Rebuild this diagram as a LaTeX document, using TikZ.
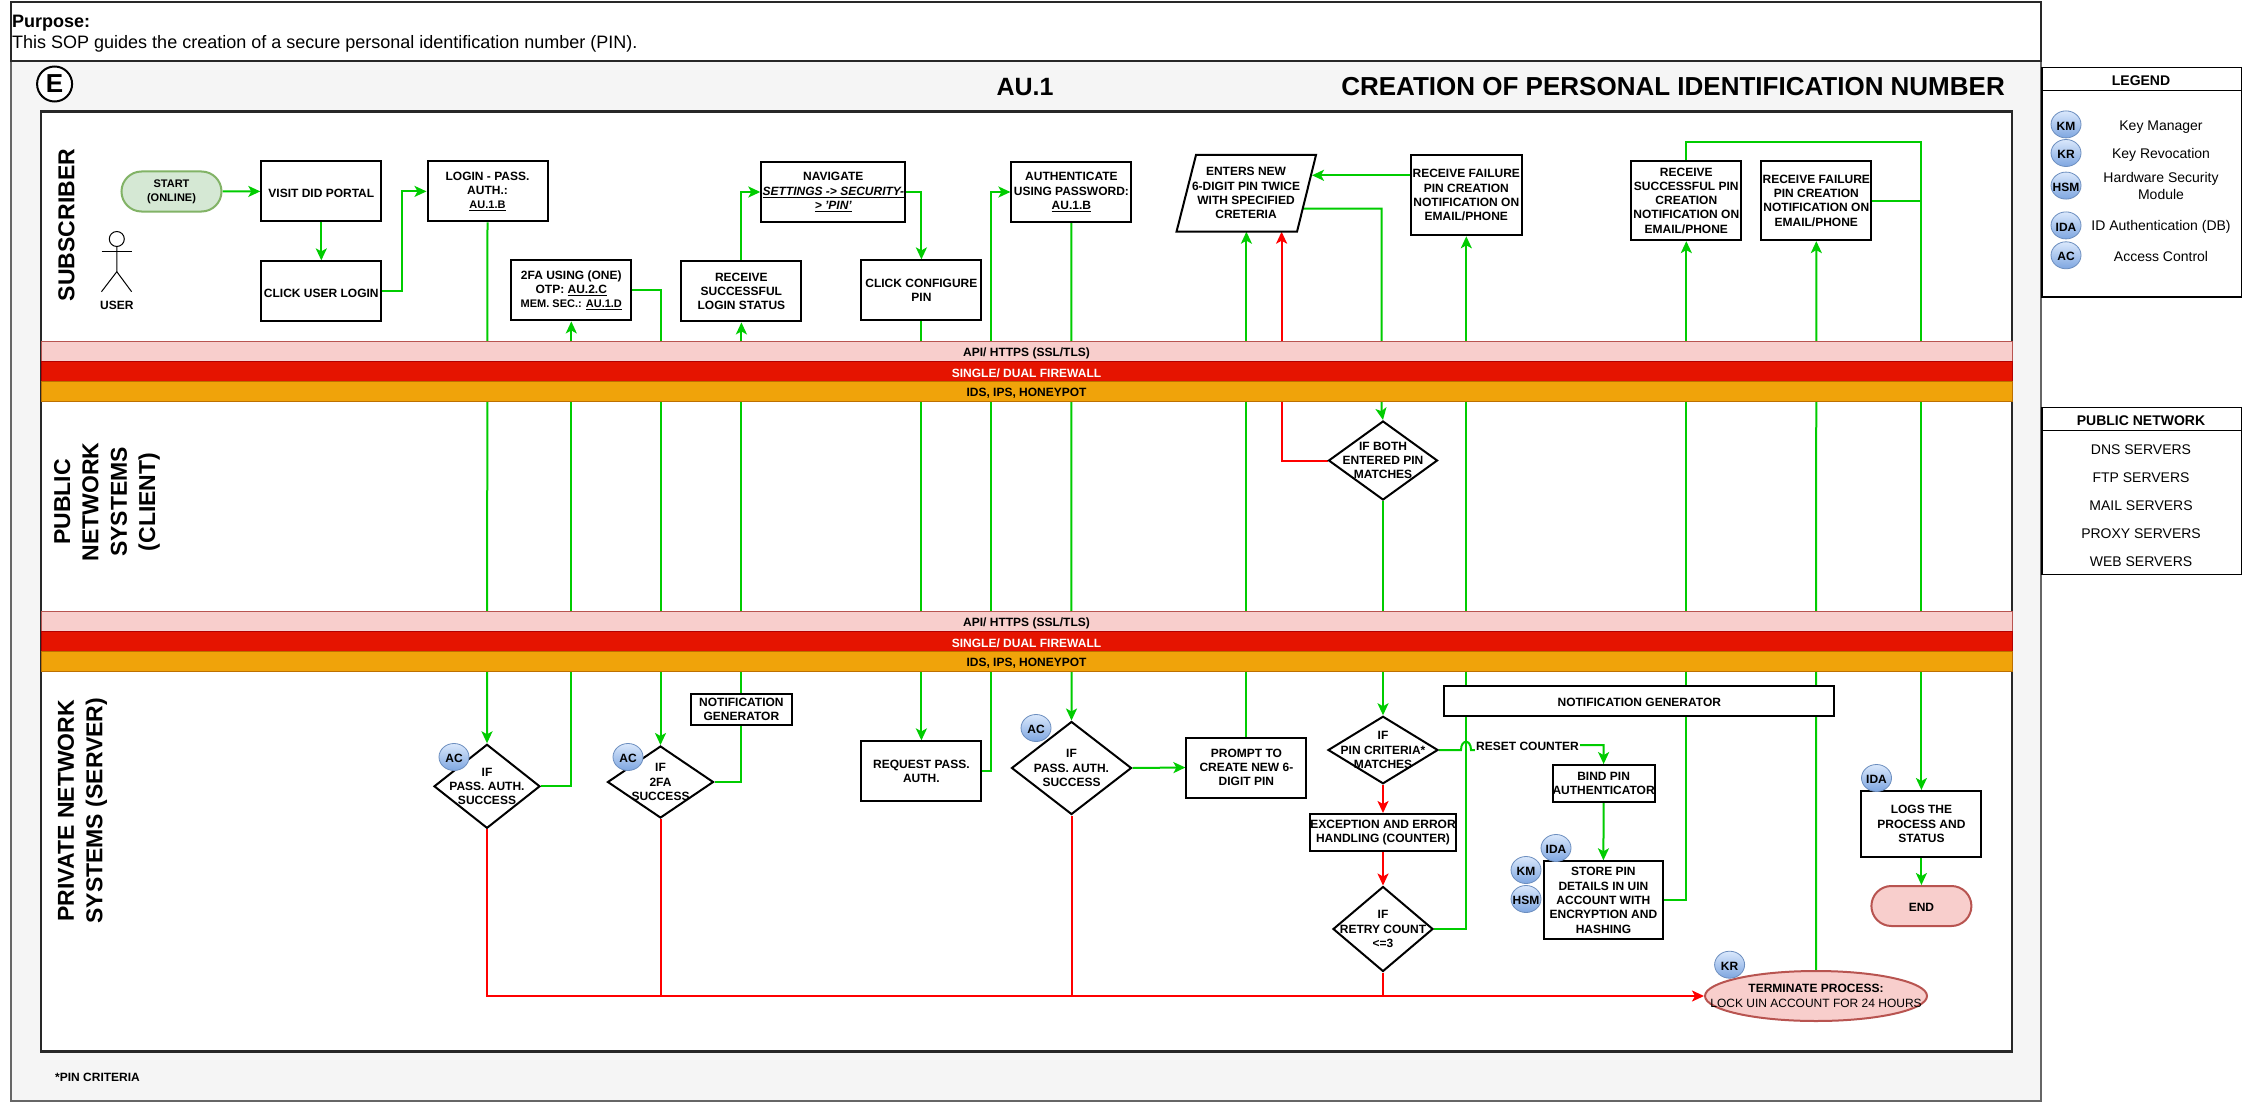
\documentclass[tikz,border=0pt]{standalone}
\usepackage{fontspec}
\setmainfont{Liberation Sans}
\usetikzlibrary{arrows.meta,shapes.geometric}
\pgfdeclarelayer{panel}
\pgfdeclarelayer{conn}
\pgfsetlayers{panel,conn,main}
\definecolor{gok}{HTML}{00CC00}
\definecolor{rno}{HTML}{FF0000}
\definecolor{panelgray}{HTML}{666666}
\definecolor{panelfill}{HTML}{F5F5F5}
\definecolor{frame}{HTML}{282828}
\definecolor{pinkfill}{HTML}{F8CECC}
\definecolor{pinkline}{HTML}{B85450}
\definecolor{redfill}{HTML}{E51400}
\definecolor{redline}{HTML}{B20000}
\definecolor{orgfill}{HTML}{F0A30A}
\definecolor{orgline}{HTML}{BD7000}
\definecolor{grnfill}{HTML}{D5E8D4}
\definecolor{grnline}{HTML}{82B366}
\definecolor{blueline}{HTML}{6C8EBF}
\definecolor{bluetop}{HTML}{DAE8FC}
\definecolor{bluebot}{HTML}{7EA6E0}
\tikzset{
  lowtext/.style={execute at begin node={\leavevmode\rule{0pt}{#1}}},
  b12/.style={font=\fontsize{12}{14.3}\selectfont\bfseries,lowtext=11.5pt},
  r14/.style={font=\fontsize{14}{17}\selectfont,lowtext=13pt},
  box/.style={draw=black,line width=2pt,fill=white,inner sep=0pt,align=center,b12,minimum width=120pt,minimum height=60pt},
  dia/.style={shape=diamond,draw=black,line width=2pt,fill=white,inner xsep=-70pt,inner ysep=-30pt,align=center,b12},
  pill/.style={draw=#1,line width=2pt,rounded corners=20pt,inner sep=0pt,align=center,minimum width=100pt,minimum height=40pt},
  tag/.style={shape=ellipse,draw=blueline,line width=.8pt,top color=bluetop,bottom color=bluebot,inner xsep=-12pt,inner ysep=-5pt,minimum width=30pt,minimum height=27pt,b12},
  band/.style={draw=#1,line width=1pt,inner sep=0pt,minimum width=1971pt,minimum height=20pt,b12},
  side/.style={rotate=90,align=center,font=\fontsize{23}{28.3}\selectfont\bfseries},
  gline/.style={draw=gok,line width=2pt},
  rline/.style={draw=rno,line width=2pt},
  tip/.style={-{Stealth[length=12pt,width=11pt,inset=3pt]}},
  listbox/.style={draw=black,line width=1.5pt,fill=white,inner sep=0pt},
}
\begin{document}
\begin{tikzpicture}[x=1pt,y=-1pt]
\useasboundingbox (0,0) rectangle (2242,1102);
\begin{pgfonlayer}{panel}
  \node[draw=panelgray,fill=panelfill,line width=2pt,inner sep=0pt,minimum width=2030pt,minimum height=1040pt] (panelbox) at (1026,581) {};
  \node[draw=frame,line width=2.5pt,fill=white,inner sep=0pt,minimum width=2030pt,minimum height=59pt] (purposebox) at (1026,31.5) {};
  \node[draw=frame,line width=2.5pt,fill=white,inner sep=0pt,minimum width=1971pt,minimum height=940pt] (innerbox) at (1026.5,581.7) {};
\end{pgfonlayer}

% header
\node[anchor=west,font=\fontsize{18}{22}\selectfont\bfseries,inner sep=0pt] (purposehd) at (12,23) {Purpose:};
\node[anchor=west,font=\fontsize{18}{22}\selectfont,inner sep=0pt] (purposetx) at (12,44) {This SOP guides the creation of a secure personal identification number (PIN).};
\node[shape=circle,draw=black,line width=2pt,fill=white,inner sep=0pt,minimum size=35pt,font=\fontsize{26}{30}\selectfont\bfseries] (eee) at (54.6,84) {E};
\node[font=\fontsize{25}{30}\selectfont\bfseries,inner sep=0pt] (autitle) at (1025,87) {AU.1};
\node[anchor=east,font=\fontsize{26}{30}\selectfont\bfseries,inner sep=0pt] (mtitle) at (2005,87) {CREATION OF PERSONAL IDENTIFICATION NUMBER};

% side titles
\node[side] (sidesub) at (66.5,225) {SUBSCRIBER};
\node[side] (sidepub) at (107,502) {PUBLIC\\NETWORK\\SYSTEMS\\(CLIENT)};
\node[side] (sidepri) at (82.5,810.7) {PRIVATE NETWORK\\SYSTEMS (SERVER)};
\node[anchor=west,b12,inner sep=0pt] (pincrit) at (55,1076) {*PIN CRITERIA};

% actor
\node[shape=ellipse,draw=black,line width=1pt,fill=white,minimum width=15pt,minimum height=15pt,inner sep=0pt] (uhead) at (116.8,239) {};
\coordinate (uhip) at (116.8,271.7);
\coordinate (uarml) at (101.5,251.3);
\coordinate (uarmr) at (131.6,251.3);
\coordinate (ulegl) at (101.5,291.7);
\coordinate (ulegr) at (131.6,291.7);
\draw[line width=1pt] (uhead.south) -- (uhip) -- (ulegl);
\draw[line width=1pt] (uhip) -- (ulegr);
\draw[line width=1pt] (uarml) -- (uarmr);
\node[b12,inner sep=0pt] (ulabel) at (116.8,304.3) {USER};

% bands
\node[band=pinkline,fill=pinkfill] (api1) at (1026.5,351.7) {API/ HTTPS (SSL/TLS)};
\node[band=redline,fill=redfill,text=white] (fw1) at (1026.5,371.7) {SINGLE/ DUAL FIREWALL};
\node[band=orgline,fill=orgfill] (ids1) at (1026.5,391.7) {IDS, IPS, HONEYPOT};
\node[band=pinkline,fill=pinkfill] (api2) at (1026.5,621.7) {API/ HTTPS (SSL/TLS)};
\node[band=redline,fill=redfill,text=white] (fw2) at (1026.5,641.7) {SINGLE/ DUAL FIREWALL};
\node[band=orgline,fill=orgfill] (ids2) at (1026.5,661.7) {IDS, IPS, HONEYPOT};

% subscriber lane
\node[pill=grnline,fill=grnfill,font=\fontsize{11}{14.3}\selectfont\bfseries,lowtext=10.5pt] (start) at (171.5,191.5) {START\\(ONLINE)};
\node[box] (visit) at (321.3,191.4) {VISIT DID PORTAL};
\node[box] (click) at (321.3,291.4) {CLICK USER LOGIN};
\node[box] (login) at (487.5,191.4) {LOGIN - PASS.\\AUTH.:\\{\fontsize{11}{14.3}\selectfont\underline{AU.1.B}}};
\node[box] (tfa) at (571.3,290.4) {2FA USING (ONE)\\OTP: \underline{AU.2.C}\\{\fontsize{11}{14.3}\selectfont MEM. SEC.: \underline{AU.1.D}}};
\node[box] (recv) at (741.4,291.4) {RECEIVE\\SUCCESSFUL\\LOGIN STATUS};
\node[box,minimum width=144pt] (nav) at (833.3,192) {NAVIGATE\\\textit{\underline{SETTINGS -> SECURITY-}}\\\textit{\underline{> \symbol{39}PIN\symbol{39}}}};
\node[box] (conf) at (921.4,290.4) {CLICK CONFIGURE\\PIN};
\node[box] (auth) at (1071.4,192) {AUTHENTICATE\\USING PASSWORD:\\\underline{AU.1.B}};
\coordinate (pinbl) at (1176.5,231.7);
\coordinate (pintl) at (1196,155);
\coordinate (pintr) at (1316,155);
\coordinate (pinbr) at (1297,231.7);
\draw[line width=2pt,fill=white] (pinbl) -- (pintl) -- (pintr) -- (pinbr) -- cycle;
\node[b12,align=center,inner sep=0pt] (pin) at (1246,193.3) {ENTERS NEW\\6-DIGIT PIN TWICE\\WITH SPECIFIED\\CRETERIA};
\coordinate (pinbottoma) at (1246.4,231.7);
\coordinate (pinbottomb) at (1281.6,231.7);
\coordinate (pinright) at (1303,208.7);
\coordinate (pinnotch) at (1312,175.3);
\node[box,minimum width=111pt,minimum height=80pt] (failone) at (1466.3,195.3) {RECEIVE FAILURE\\PIN CREATION\\NOTIFICATION ON\\EMAIL/PHONE};
\node[box,minimum width=110pt,minimum height=79pt] (succ) at (1686.3,200.6) {RECEIVE\\SUCCESSFUL PIN\\CREATION\\NOTIFICATION ON\\EMAIL/PHONE};
\node[box,minimum width=110pt,minimum height=79pt] (failtwo) at (1816.3,200.6) {RECEIVE FAILURE\\PIN CREATION\\NOTIFICATION ON\\EMAIL/PHONE};

% public lane
\node[dia,minimum width=109pt,minimum height=79pt] (both) at (1383,460.5) {IF BOTH\\ENTERED PIN\\MATCHES};

% private lane
\node[dia,minimum width=106pt,minimum height=84pt] (dpa) at (487,786.3) {IF\\PASS. AUTH.\\SUCCESS};
\node[dia,minimum width=106pt,minimum height=72pt] (dtf) at (660.5,782) {IF\\2FA\\SUCCESS};
\node[box,minimum width=101pt,minimum height=31pt] (ngsmall) at (741.4,709.4) {NOTIFICATION\\GENERATOR};
\node[box] (request) at (921.4,771.4) {REQUEST PASS.\\AUTH.};
\node[dia,minimum width=120pt,minimum height=93pt] (dpb) at (1071.5,768) {IF\\PASS. AUTH.\\SUCCESS};
\node[box] (prompt) at (1246.4,767.5) {PROMPT TO\\CREATE NEW 6-\\DIGIT PIN};
\node[dia,minimum width=110pt,minimum height=67.5pt] (crit) at (1383,750) {IF\\PIN CRITERIA*\\MATCHES};
\node[box,minimum width=144pt,minimum height=37pt] (exc) at (1383,832.5) {EXCEPTION AND ERROR\\HANDLING (COUNTER)};
\node[dia,minimum width=100pt,minimum height=85pt] (retry) at (1383,929) {IF\\RETRY COUNT\\<=3};
\node[box,minimum width=390pt,minimum height=30pt] (ngbig) at (1639.3,700.5) {NOTIFICATION GENERATOR};
\node[box,minimum width=98pt,minimum height=37pt] (bind) at (1603.6,783.6) {BIND PIN\\AUTHENTICATOR};
\node[box,minimum width=119pt,minimum height=78pt] (store) at (1603.4,900.3) {STORE PIN\\DETAILS IN UIN\\ACCOUNT WITH\\ENCRYPTION AND\\HASHING};
\node[box,minimum height=66pt] (logs) at (1921.4,824) {LOGS THE\\PROCESS AND\\STATUS};
\node[pill=pinkline,fill=pinkfill,b12] (endn) at (1921.4,906) {END};
\node[shape=ellipse,draw=pinkline,line width=2pt,fill=pinkfill,inner xsep=-90pt,inner ysep=-10pt,minimum width=222pt,minimum height=50pt,align=center,b12] (term) at (1816,996) {TERMINATE PROCESS:\\\mdseries LOCK UIN ACCOUNT FOR 24 HOURS};

% connectors
\begin{pgfonlayer}{conn}
  \draw[gline,tip] (start.east) -- (visit.west);
  \draw[gline,tip] (visit.south) -- (click.north);
  \coordinate (cljog) at (401.5,291.4);
  \draw[gline,tip] (click.east) -- (cljog) |- (login.west);
  \draw[gline,tip] (login.south) -- (dpa.north);
  \draw[gline,tip] (dpa.east) -| (tfa.south);
  \draw[gline,tip] (tfa.east) -| (dtf.north);
  \draw[gline,tip] (dtf.east) -| (recv.south);
  \draw[gline,tip] (recv.north) |- (nav.west);
  \draw[gline,tip] (nav.east) -| (conf.north);
  \draw[gline,tip] (conf.south) -- (request.north);
  \coordinate (rqjog) at (991.3,771.4);
  \draw[gline,tip] (request.east) -- (rqjog) |- (auth.west);
  \draw[gline,tip] (auth.south) -- (dpb.north);
  \draw[gline,tip] (dpb.east) -- (prompt.west);
  \draw[gline,tip] (prompt.north) -- (pinbottoma);
  \coordinate (pinturn) at (1381.6,208.7);
  \coordinate (pindrop) at (1381.6,412);
  \draw[gline,tip] (pinright) -- (pinturn) -- (pindrop) -- (both.north);
  \draw[rline,tip] (both.west) -| (pinbottomb);
  \draw[gline,tip] (both.south) -- (crit.north);
  \draw[rline,tip] (crit.south) -- (exc.north);
  \draw[rline,tip] (exc.south) -- (retry.north);
  \draw[gline,tip] (retry.east) -| (failone.south);
  \draw[gline,tip] (failone.west |- pinnotch) -- (pinnotch);
  \coordinate (jumpa) at (1461,750);
  \coordinate (jumpb) at (1471,750);
  \coordinate (jumpc) at (1480,750);
  \coordinate (jumpd) at (1480,745);
  \draw[gline,tip] (crit.east) -- (jumpa) .. controls (1461,739) and (1471,739) .. (jumpb) -- (jumpc) -- (jumpd) -| (bind.north);
  \draw[gline,tip] (bind.south) -- (store.north);
  \draw[gline,tip] (store.east) -| (succ.south);
  \draw[gline,tip] (term.north) -- (failtwo.south);
  \coordinate (succup) at (1686.3,141.6);
  \draw[gline,tip] (succ.north) -- (succup) -| (logs.north);
  \draw[gline] (failtwo.east) -- (failtwo.east -| logs.north);
  \draw[gline,tip] (logs.south) -- (endn.north);
  \draw[rline,tip] (dpa.south) |- (term.west);
  \draw[rline] (dtf.south) -- (dtf.south |- term.west);
  \draw[rline] (dpb.south) -- (dpb.south |- term.west);
  \draw[rline] (retry.south) -- (retry.south |- term.west);
\end{pgfonlayer}
\node[fill=white,b12,inner xsep=1pt,inner ysep=1pt] (resetlabel) at (1527.5,745) {RESET COUNTER};

% role badges on the flow
\node[tag] (acone) at (454,757) {AC};
\node[tag] (actwo) at (628,757) {AC};
\node[tag] (acthree) at (1036,728) {AC};
\node[tag] (idaone) at (1556,848) {IDA};
\node[tag] (kmone) at (1526,870) {KM};
\node[tag] (hsmone) at (1526,899) {HSM};
\node[tag] (krone) at (1729.6,964.7) {KR};
\node[tag] (idatwo) at (1876.5,778) {IDA};

% legend
\node[listbox,minimum width=200pt,minimum height=229.3pt] (legendbox) at (2141.8,182.4) {};
\coordinate (legendrule) at (0,90.3);
\draw[line width=1.5pt] (legendbox.west |- legendrule) -- (legendbox.east |- legendrule);
\node[font=\fontsize{14}{17}\selectfont\bfseries,lowtext=13pt] (legendt) at (2141,79) {LEGEND};
\node[tag] (lkm) at (2066,124.4) {KM};
\node[tag] (lkr) at (2066,153) {KR};
\node[tag] (lhsm) at (2066,185.6) {HSM};
\node[tag] (lida) at (2066,225.4) {IDA};
\node[tag] (lac) at (2066,255.3) {AC};
\node[r14] (tkm) at (2161,125.4) {Key Manager};
\node[r14] (tkr) at (2161,153) {Key Revocation};
\node[r14,align=center] (thsm) at (2161,185.6) {Hardware Security\\Module};
\node[r14] (tida) at (2161,225.4) {ID Authentication (DB)};
\node[r14] (tac) at (2161,255.3) {Access Control};

\node[listbox,minimum width=200pt,minimum height=166.8pt] (pubbox) at (2141.8,491) {};
\coordinate (pubrule) at (0,430.5);
\draw[line width=1.5pt] (pubbox.west |- pubrule) -- (pubbox.east |- pubrule);
\node[font=\fontsize{14}{17}\selectfont\bfseries,lowtext=13pt] (pubt) at (2141,419) {PUBLIC NETWORK};
\node[r14] (dns) at (2141,447.8) {DNS SERVERS};
\node[r14] (ftp) at (2141,476) {FTP SERVERS};
\node[r14] (mail) at (2141,504) {MAIL SERVERS};
\node[r14] (proxy) at (2141,532) {PROXY SERVERS};
\node[r14] (web) at (2141,560) {WEB SERVERS};
\end{tikzpicture}
\end{document}
